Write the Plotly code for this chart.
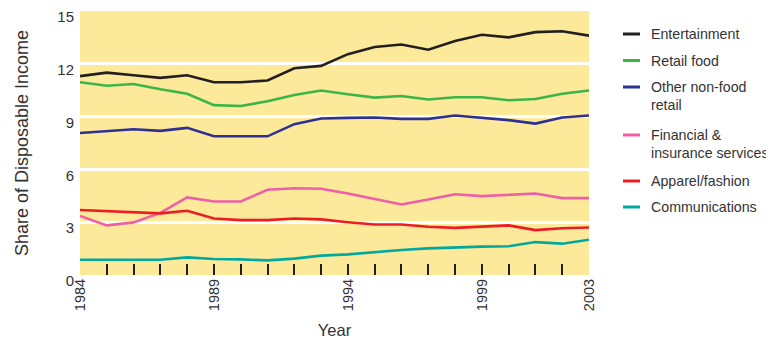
import plotly.graph_objects as go

years = list(range(1984, 2004))

entertainment = [11.3, 11.5, 11.35, 11.2, 11.35, 10.95, 10.95, 11.05, 11.75, 11.88,
                 12.55, 12.95, 13.1, 12.8, 13.3, 13.65, 13.5, 13.8, 13.85, 13.6]
retail_food = [10.95, 10.75, 10.85, 10.55, 10.3, 9.65, 9.6, 9.87, 10.23, 10.48,
               10.27, 10.08, 10.17, 9.97, 10.1, 10.1, 9.93, 10.0, 10.3, 10.48]
other_nonfood = [8.07, 8.19, 8.28, 8.19, 8.36, 7.88, 7.88, 7.88, 8.57, 8.89,
                 8.93, 8.95, 8.87, 8.87, 9.06, 8.93, 8.8, 8.6, 8.95, 9.06]
financial = [3.36, 2.82, 2.99, 3.53, 4.41, 4.18, 4.18, 4.84, 4.93, 4.9,
             4.63, 4.31, 4.01, 4.29, 4.59, 4.48, 4.56, 4.63, 4.37, 4.37]
apparel = [3.69, 3.63, 3.59, 3.5, 3.65, 3.21, 3.12, 3.12, 3.21, 3.16,
           3.0, 2.87, 2.87, 2.74, 2.68, 2.76, 2.82, 2.55, 2.66, 2.7]
communications = [0.87, 0.87, 0.87, 0.87, 1.0, 0.91, 0.89, 0.83, 0.93, 1.1,
                  1.17, 1.3, 1.42, 1.51, 1.57, 1.61, 1.63, 1.87, 1.78, 2.0]

series_names = ["Entertainment", "Retail food", "Other non-food<br>retail",
                "Financial &<br>insurance services", "Apparel/fashion", "Communications"]
series_values = [entertainment, retail_food, other_nonfood, financial, apparel, communications]
series_colors = ["#231f20", "#3bb54a", "#2e3192", "#ef5fa7", "#ed1c24", "#00a99d"]

x_label_years = [1984, 1989, 1994, 1999, 2003]
x_minor_years = list(range(1985, 2003))
y_ticks = [0, 3, 6, 9, 12, 15]
y_grid = [3, 6, 9, 12]

fig = go.Figure()
for name, vals, col in zip(series_names, series_values, series_colors):
    fig.add_trace(go.Scatter(x=years, y=vals, mode="lines", name=name,
                             line=dict(color=col, width=2.6), showlegend=False))

# target plot-area geometry in window px; page body has an 8px margin
OFF = 8
L, R, T, B = 80, 589, 11, 275
FW, FH = 774 - OFF, 339 - OFF
W, H = R - L, B - T
def px(x):
    return (x - L) / W
def py(y):
    return (B - y) / H

legend_rows = [(34, 1), (60.5, 1), (87, 2), (135, 2), (181, 1), (207, 1)]
shapes = []
annotations = []
for (yy, nlines), name, col in zip(legend_rows, series_names, series_colors):
    shapes.append(dict(type="line", xref="paper", yref="paper",
                       x0=px(623), x1=px(640), y0=py(yy), y1=py(yy),
                       line=dict(color=col, width=3)))
    yc = yy + (nlines - 1) * 9
    annotations.append(dict(xref="paper", yref="paper", x=px(649), y=py(yc),
                            xanchor="left", yanchor="middle", align="left",
                            text=name, showarrow=False,
                            font=dict(size=14.2, color="#333333")))

fig.update_layout(
    width=FW, height=FH,
    margin=dict(l=L - OFF, r=774 - R, t=T - OFF, b=339 - B, pad=0),
    paper_bgcolor="white",
    plot_bgcolor="#fde99a",
    font=dict(family="Arial, Liberation Sans, sans-serif", color="#333333"),
    shapes=shapes,
    annotations=annotations,
    xaxis=dict(
        range=[1984, 2003], automargin=False,
        tickmode="array", tickvals=x_label_years,
        ticktext=[str(v) for v in x_label_years],
        tickangle=-90, ticks="", showgrid=False, zeroline=False, showline=False,
        tickfont=dict(size=14.5, color="#333333"),
        title=dict(text="Year", font=dict(size=16.5, color="#333333"), standoff=14),
        minor=dict(tickmode="array", tickvals=x_minor_years, ticks="inside",
                   ticklen=11, tickwidth=2, tickcolor="#231f20", showgrid=False),
    ),
    yaxis=dict(
        range=[0, 15], automargin=False,
        tickmode="array", tickvals=y_ticks, ticks="", showgrid=False,
        zeroline=False, showline=False,
        tickfont=dict(size=15, color="#333333"),
        ticklabelstandoff=5, ticklabelshift=6,
        title=dict(text="Share of Disposable Income", font=dict(size=18, color="#333333"), standoff=24),
        minor=dict(tickmode="array", tickvals=y_grid, showgrid=True,
                   gridcolor="white", gridwidth=3, ticks=""),
    ),
)

fig.write_html("out.html")
